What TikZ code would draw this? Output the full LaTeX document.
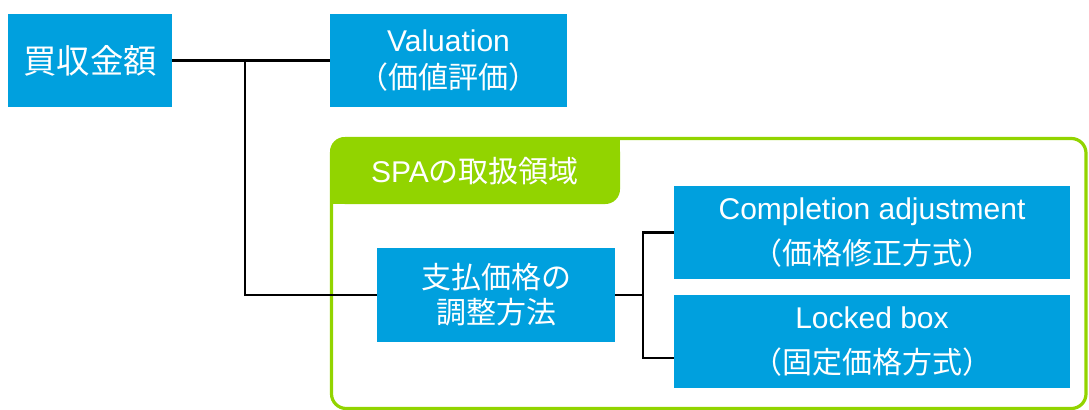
\documentclass[tikz,border=0pt]{standalone}
\usepackage{fontspec}
\setmainfont{Liberation Sans}
\newfontfamily\jp{Noto Sans CJK JP}
\definecolor{boxblue}{RGB}{0,160,222}
\definecolor{framegreen}{RGB}{146,212,0}
\begin{document}
\begin{tikzpicture}[x=0.75pt,y=-0.75pt,
  bluebox/.style={fill=boxblue,text=white,inner sep=0pt,align=center,
    minimum height=69.75pt},
  conn/.style={draw=black,line width=1.6pt},
]
\useasboundingbox (0,0) rectangle (1089,410);
% green frame
\draw[framegreen,line width=2.4pt,rounded corners=11pt] (331.5,138.5) rectangle (1086,408.5);
% tab
\fill[framegreen,rounded corners=11pt] (330,137) rectangle (620,204);
\fill[framegreen] (600,137) rectangle (620,160);
\fill[framegreen] (330,185) rectangle (350,204);
\node[text=white,font=\fontsize{22.5}{27}\selectfont] (tab) at (475,171) {SPA{\jp の取扱領域}};
% boxes
\node[bluebox,minimum width=123pt,font=\fontsize{25}{28}\selectfont] (A) at (90,60.5) {\jp 買収金額};
\node[bluebox,minimum width=177.75pt,font=\fontsize{22.5}{27.75}\selectfont] (V) at (448.5,60.5) {Valuation\\{\jp （価値評価）}};
\node[bluebox,minimum width=178.5pt,minimum height=70.5pt,font=\fontsize{22.5}{26.25}\selectfont] (P) at (496,295) {\raisebox{-3pt}{\jp 支払価格の}\\\raisebox{-3pt}{\jp 調整方法}};
\node[bluebox,minimum width=297pt,font=\fontsize{22.5}{33.75}\selectfont] (C) at (872,232.5) {Completion adjustment\\{\jp （価格修正方式）}};
\node[bluebox,minimum width=297pt,font=\fontsize{22.5}{33.75}\selectfont] (L) at (872,341.5) {Locked box\\{\jp （固定価格方式）}};
% connectors
\coordinate (j1) at (245,60.5);
\coordinate (j2) at (643,295);
\draw[conn] (A.east) -- (V.west);
\draw[conn] (j1) |- (P.west);
\draw[conn] (P.east) -- (j2);
\draw[conn] (C.west) -| (j2) |- ([yshift=-12.4pt]L.west);
\end{tikzpicture}
\end{document}
